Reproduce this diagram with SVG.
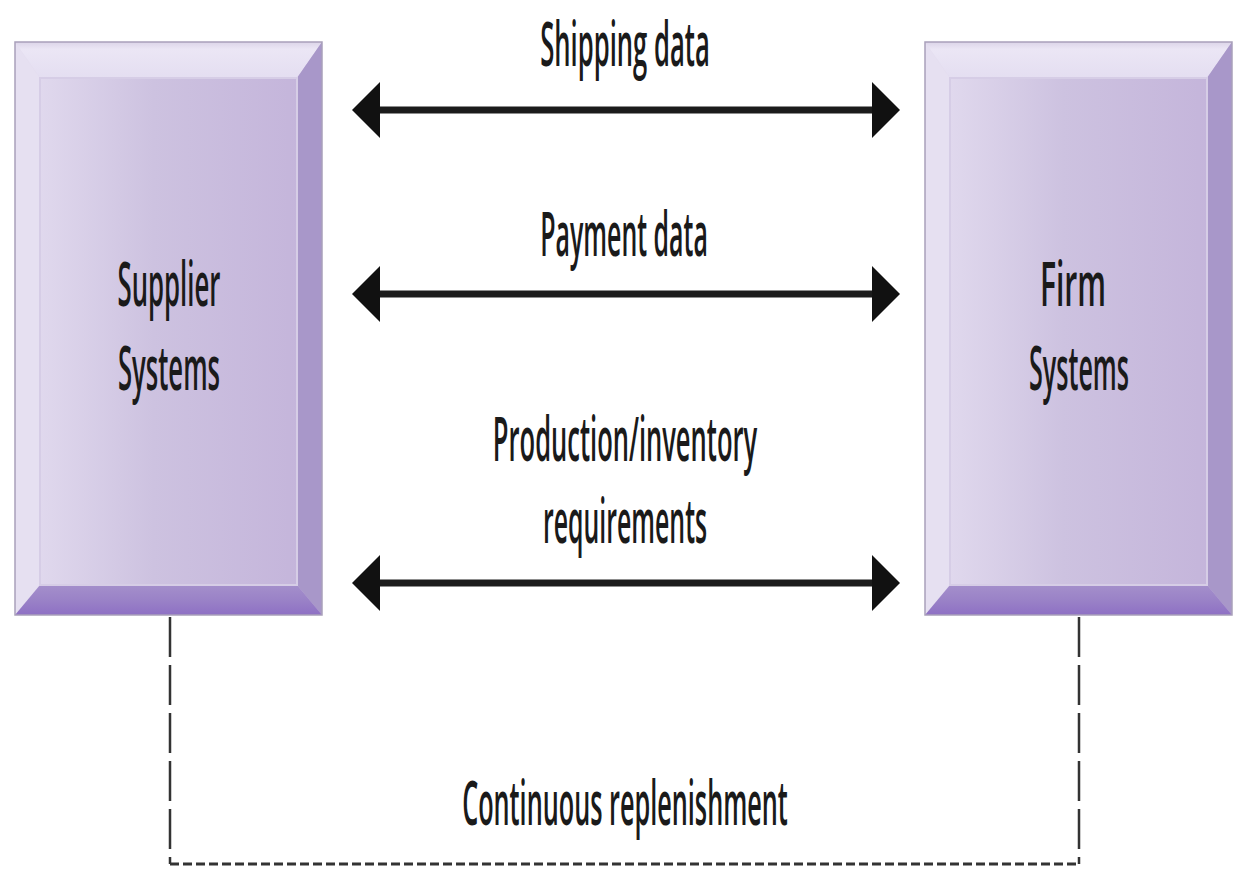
<svg xmlns="http://www.w3.org/2000/svg" width="1241" height="876" viewBox="0 0 1241 876">
  <style>
    .lbl { font-family: "Open Sans", "Liberation Sans", sans-serif; font-size: 62px; font-weight: 600; fill: #1a1a1a; text-anchor: middle; }
    .flow { stroke: #1c1c1c; stroke-width: 7; fill: none; marker-start: url(#head); marker-end: url(#head); }
    .dashV { stroke: #333; stroke-width: 2.5; fill: none; stroke-dasharray: 40 8; }
    .dashH { stroke: #333; stroke-width: 3; fill: none; stroke-dasharray: 9 4; }
    .rim { fill: none; stroke: #a9a0ba; stroke-width: 1.5; }
  </style>
  <defs>
    <linearGradient id="face" x1="0" y1="0" x2="1" y2="0">
      <stop offset="0" stop-color="#e4ddf0"/>
      <stop offset="0.45" stop-color="#cdc2e0"/>
      <stop offset="1" stop-color="#c3b3da"/>
    </linearGradient>
    <linearGradient id="bottomBand" x1="0" y1="0" x2="0" y2="1">
      <stop offset="0" stop-color="#a48fcb"/>
      <stop offset="0.5" stop-color="#9a82c7"/>
      <stop offset="1" stop-color="#8e70c4"/>
    </linearGradient>
    <linearGradient id="topBand" x1="0" y1="0" x2="0" y2="1">
      <stop offset="0" stop-color="#dcd5e8"/>
      <stop offset="0.2" stop-color="#ebe6f5"/>
      <stop offset="1" stop-color="#e4def1"/>
    </linearGradient>
    <marker id="head" markerUnits="userSpaceOnUse" viewBox="0 0 28 56" refX="8" refY="28" markerWidth="28" markerHeight="56" orient="auto-start-reverse">
      <path d="M0,0 L28,28 L0,56 Z" fill="#111"/>
    </marker>
    <!-- bevelled box, drawn at origin -->
    <g id="bevelBox">
      <rect x="0" y="0" width="307" height="573" fill="url(#face)"/>
      <polygon points="0,0 307,0 282,36 25,36" fill="url(#topBand)"/>
      <polygon points="0,0 25,36 25,543 0,573" fill="#e6e0f1"/>
      <polygon points="307,0 307,573 282,543 282,36" fill="#a897c9"/>
      <polygon points="0,573 25,543 282,543 307,573" fill="url(#bottomBand)"/>
      <rect x="25" y="36" width="257" height="507" fill="none" stroke="#d6cde6" stroke-width="2"/>
      <rect x="0" y="0" width="307" height="573" class="rim"/>
    </g>
  </defs>

  <rect width="1241" height="876" fill="#ffffff"/>

  <!-- connectors -->
  <g id="connectors">
    <line class="flow" x1="372" y1="110" x2="880" y2="110"/>
    <line class="flow" x1="372" y1="294" x2="880" y2="294"/>
    <line class="flow" x1="372" y1="583" x2="880" y2="583"/>
    <path class="dashV" d="M170,617 V864"/>
    <path class="dashV" d="M1079,617 V864"/>
    <path class="dashH" d="M170,864 H1079"/>
  </g>

  <!-- connector labels (condensed by horizontal scaling) -->
  <g id="labels">
    <text class="lbl" transform="translate(625,66) scale(0.69,1)" textLength="246" lengthAdjust="spacingAndGlyphs">Shipping data</text>
    <text class="lbl" transform="translate(624,256) scale(0.69,1)" textLength="243" lengthAdjust="spacingAndGlyphs">Payment data</text>
    <text class="lbl" transform="translate(625,461) scale(0.69,1)" textLength="383" lengthAdjust="spacingAndGlyphs">Production/inventory</text>
    <text class="lbl" transform="translate(625,543) scale(0.69,1)" textLength="238" lengthAdjust="spacingAndGlyphs">requirements</text>
    <text class="lbl" transform="translate(625,825) scale(0.69,1)" textLength="472" lengthAdjust="spacingAndGlyphs">Continuous replenishment</text>
  </g>

  <!-- supplier node -->
  <g id="supplier">
    <use href="#bevelBox" x="15" y="42"/>
    <text class="lbl" transform="translate(169,306) scale(0.69,1)" textLength="149" lengthAdjust="spacingAndGlyphs">Supplier</text>
    <text class="lbl" transform="translate(169,390) scale(0.69,1)" textLength="148" lengthAdjust="spacingAndGlyphs">Systems</text>
  </g>

  <!-- firm node -->
  <g id="firm">
    <use href="#bevelBox" x="925" y="42"/>
    <text class="lbl" transform="translate(1073,306) scale(0.69,1)" textLength="96" lengthAdjust="spacingAndGlyphs">Firm</text>
    <text class="lbl" transform="translate(1079,390) scale(0.69,1)" textLength="145" lengthAdjust="spacingAndGlyphs">Systems</text>
  </g>
</svg>
